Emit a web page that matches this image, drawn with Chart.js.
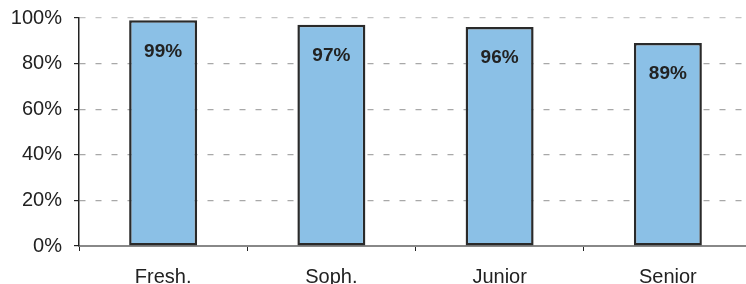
<!DOCTYPE html>
<html>
<head>
<meta charset="utf-8">
<script src="https://cdn.jsdelivr.net/npm/chart.js@4"></script>
<style>
  html, body { margin:0; padding:0; background:#fff; overflow:hidden; }
  #wrap { width:752px; height:300px; position:relative; }
</style>
</head>
<body>
<div id="wrap"><canvas id="chart"></canvas></div>
<script>
// data
const categories = ['Fresh.', 'Soph.', 'Junior', 'Senior'];
const values = [99, 97, 96, 89];
const yTicks = [0, 20, 40, 60, 80, 100];

const FONT = 'Liberation Sans, Arial, Helvetica, sans-serif';

// labels inside the bars, near the top
const barLabels = {
  id: 'barLabels',
  afterDatasetsDraw(chart){
    const ctx = chart.ctx;
    const meta = chart.getDatasetMeta(0);
    ctx.save();
    ctx.font = 'bold 19px ' + FONT;
    ctx.fillStyle = '#222';
    ctx.textAlign = 'center';
    ctx.textBaseline = 'middle';
    meta.data.forEach((bar, i)=>{
      ctx.fillText(values[i] + '%', bar.x, bar.y + 31);
    });
    ctx.restore();
  }
};

new Chart(document.getElementById('chart'), {
  type: 'bar',
  data: {
    labels: categories,
    datasets: [{
      data: values,
      backgroundColor: '#8bc0e6',
      borderColor: '#2a2a2a',
      borderWidth: 2.5,
      borderSkipped: false,
      categoryPercentage: 1,
      barPercentage: 0.404
    }]
  },
  options: {
    responsive: true,
    maintainAspectRatio: false,
    animation: false,
    layout: { padding: { top: 18, left: 0, right: 0, bottom: 0 } },
    plugins: { legend: { display:false }, tooltip: { enabled:false } },
    scales: {
      x: {
        grid: { display:true, drawOnChartArea:false, drawTicks:true, tickLength:5, tickColor:'#222', tickWidth:1 },
        border: { color:'#888', width:2 },
        ticks: { color:'#222', font:{ family:FONT, size:20 }, padding:14 },
        afterFit(scale){ scale.height = 54; scale.paddingLeft = 0; scale.paddingRight = 0; }
      },
      y: {
        min: 0, max: 100,
        afterBuildTicks(scale){ scale.ticks = yTicks.map(v=>({ value:v })); },
        grid: {
          color(c){
            if (c.tick && c.tick.value === 0) return 'rgba(0,0,0,0)';
            if (c.tick && c.tick.value === 100) return '#c4c4c4';
            return '#a8a8a8';
          },
          lineWidth: 1.2,
          tickLength: 5,
          tickColor: '#222',
          tickBorderDash: []
        },
        border: { color:'#222', width:1.5, dash:[6,10] },
        ticks: {
          color:'#222',
          font:{ family:FONT, size:20 },
          padding: 12,
          callback: v => v + '%'
        },
        afterFit(scale){ scale.width = 79; scale.paddingTop = 0; scale.paddingBottom = 0; }
      }
    }
  },
  plugins: [barLabels]
});
</script>
</body>
</html>
